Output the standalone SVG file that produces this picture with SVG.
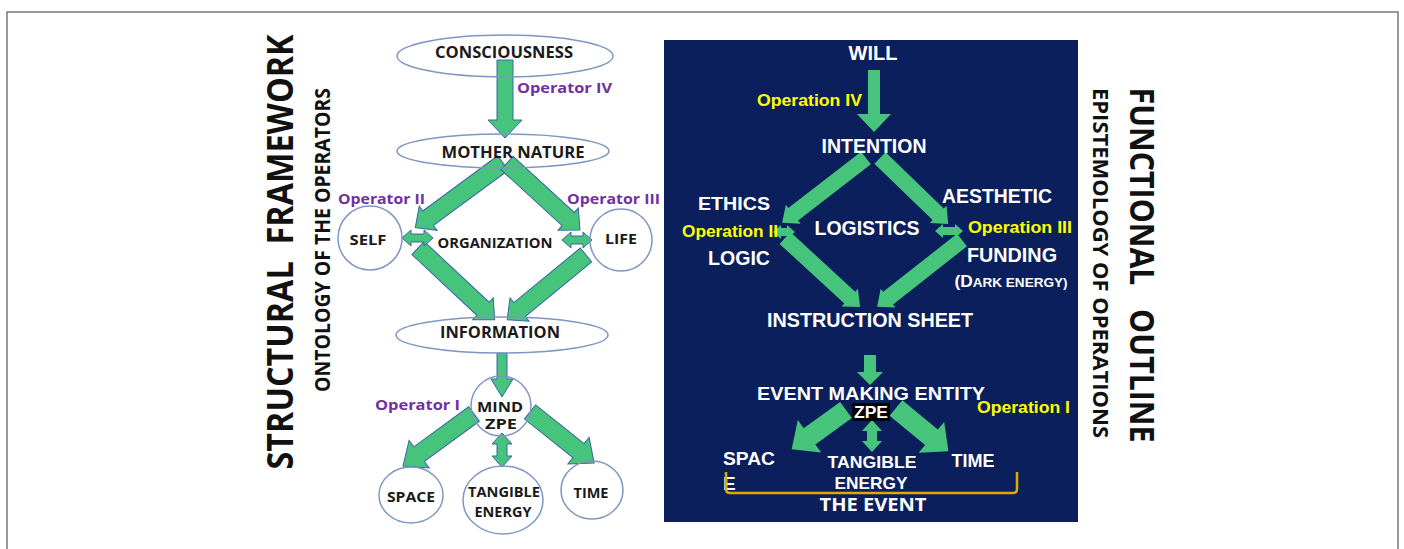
<svg xmlns="http://www.w3.org/2000/svg" width="1404" height="549" viewBox="0 0 1404 549">
<style>
.bg{fill:#ffffff}
.frame{fill:none;stroke:#555;stroke-width:1.2}
.panel{fill:#0b1f5c}
.ell{fill:none;stroke:#7f96c4;stroke-width:1.5}
.arr{fill:#46c47c;stroke:#3a64a8;stroke-width:1}
.arrR{fill:#46c47c;stroke:none}
.lt{font-family:"Open Sans","Noto Sans",sans-serif;font-weight:700;fill:#1a1a1a;text-anchor:middle}
.op{font-family:"Open Sans","Noto Sans",sans-serif;font-weight:700;fill:#7030a0}
.wt{font-family:"Liberation Sans",Arial,sans-serif;font-weight:700;fill:#ffffff;text-anchor:middle}
.yo{font-family:"Liberation Sans",Arial,sans-serif;font-weight:700;fill:#ffff00}
.title{font-family:"Open Sans","Noto Sans",sans-serif;font-weight:700;fill:#111;text-anchor:middle;white-space:pre}
</style>
<rect class="bg" x="0" y="0" width="1404" height="549"/>
<rect class="frame" x="7" y="12" width="1391" height="560"/>
<rect class="panel" x="664" y="40" width="414" height="482"/>

<g id="titles">
<text class="title" xml:space="preserve" transform="translate(293,252) rotate(-90)" font-size="35" textLength="435" lengthAdjust="spacingAndGlyphs">STRUCTURAL  FRAMEWORK</text>
<text class="title" transform="translate(330,240) rotate(-90)" font-size="22" textLength="304" lengthAdjust="spacingAndGlyphs">ONTOLOGY OF THE OPERATORS</text>
<text class="title" xml:space="preserve" transform="translate(1130,265) rotate(90)" font-size="34" textLength="355" lengthAdjust="spacingAndGlyphs">FUNCTIONAL   OUTLINE</text>
<text class="title" transform="translate(1093,263) rotate(90)" font-size="22" textLength="350" lengthAdjust="spacingAndGlyphs">EPISTEMOLOGY OF OPERATIONS</text>
</g>

<g id="connectors">
<polygon class="arr" transform="translate(505,60) rotate(90)" points="0,-8 60,-8 60,-17 78,0 60,17 60,8 0,8" stroke-width="1.5" stroke="#2f5597"/>
<polygon class="arr" transform="translate(503,163) rotate(143.6)" points="0,-9 93,-9 93,-15 109,0 93,15 93,9 0,9"/>
<polygon class="arr" transform="translate(507,163) rotate(42.5)" points="0,-9 83,-9 83,-15 99,0 83,15 83,9 0,9"/>
<polygon class="arr" transform="translate(418,248) rotate(43.1)" points="0,-9 89,-9 89,-15 105,0 89,15 89,9 0,9"/>
<polygon class="arr" transform="translate(586,255) rotate(140.6)" points="0,-9 86,-9 86,-15 102,0 86,15 86,9 0,9"/>
<polygon class="arr" transform="translate(402,238)" points="0,0 9,-8 9,-4 22,-4 22,-8 31,0 22,8 22,4 9,4 9,8"/>
<polygon class="arr" transform="translate(562,240)" points="0,0 9,-8 9,-4 21,-4 21,-8 30,0 21,8 21,4 9,4 9,8"/>
<polygon class="arr" transform="translate(502,353) rotate(90)" points="0,-5 26,-5 26,-11 44,0 26,11 26,5 0,5"/>
<polygon class="arr" transform="translate(474,414) rotate(143.8)" points="0,-9 68,-9 68,-17 88,0 68,17 68,9 0,9"/>
<polygon class="arr" transform="translate(530,412) rotate(38.5)" points="0,-9 62,-9 62,-17 82,0 62,17 62,9 0,9"/>
<polygon class="arr" transform="translate(502,433) rotate(90)" points="0,0 11,-10 11,-5 23,-5 23,-10 34,0 23,10 23,5 11,5 11,10"/>

<polygon class="arrR" transform="translate(874,70) rotate(90)" points="0,-6 44,-6 44,-17 62,0 44,17 44,6 0,6" stroke="#3f6fb5" stroke-width="1"/>
<polygon class="arrR" transform="translate(866,158) rotate(142.3)" points="0,-8 92,-8 92,-12 106,0 92,12 92,8 0,8"/>
<polygon class="arrR" transform="translate(880,158) rotate(44.1)" points="0,-8 81,-8 81,-12 95,0 81,12 81,8 0,8"/>
<polygon class="arrR" transform="translate(785,238) rotate(42.6)" points="0,-8 88,-8 88,-12 102,0 88,12 88,8 0,8"/>
<polygon class="arrR" transform="translate(962,240) rotate(141.8)" points="0,-8 94,-8 94,-12 108,0 94,12 94,8 0,8"/>
<polygon class="arrR" transform="translate(773,232)" points="0,0 8,-7 8,-4 14,-4 14,-7 22,0 14,7 14,4 8,4 8,7"/>
<polygon class="arrR" transform="translate(935,231)" points="0,0 8,-7 8,-4 20,-4 20,-7 28,0 20,7 20,4 8,4 8,7"/>
<polygon class="arrR" transform="translate(870,355) rotate(90)" points="0,-6 17,-6 17,-13 30,0 17,13 17,6 0,6"/>
<polygon class="arrR" transform="translate(846,410) rotate(144.2)" points="0,-10 45,-10 45,-20 67,0 45,20 45,10 0,10"/>
<polygon class="arrR" transform="translate(896,408) rotate(39.6)" points="0,-10 46,-10 46,-20 68,0 46,20 46,10 0,10"/>
<polygon class="arrR" transform="translate(872,420) rotate(90)" points="0,0 11,-10 11,-5 21,-5 21,-10 32,0 21,10 21,5 11,5 11,10"/>
</g>

<g id="consciousness">
<ellipse class="ell" cx="505" cy="56" rx="108" ry="21"/>
<text class="lt" x="504" y="58" font-size="15.5" textLength="138" lengthAdjust="spacingAndGlyphs">CONSCIOUSNESS</text>
</g>
<g id="op4"><text class="op" x="517" y="93" font-size="15" textLength="95" lengthAdjust="spacingAndGlyphs">Operator IV</text></g>
<g id="mother-nature">
<ellipse class="ell" cx="503" cy="151" rx="106" ry="17"/>
<text class="lt" x="513" y="158" font-size="15.5" textLength="143" lengthAdjust="spacingAndGlyphs">MOTHER NATURE</text>
</g>
<g id="op2"><text class="op" x="338" y="204" font-size="15" textLength="87" lengthAdjust="spacingAndGlyphs">Operator II</text></g>
<g id="op3"><text class="op" x="567" y="204" font-size="15" textLength="93" lengthAdjust="spacingAndGlyphs">Operator III</text></g>
<g id="self">
<circle class="ell" cx="370" cy="238" r="32"/>
<text class="lt" x="368" y="245" font-size="15" textLength="37" lengthAdjust="spacingAndGlyphs">SELF</text>
</g>
<g id="organization"><text class="lt" x="495" y="248" font-size="14" textLength="115" lengthAdjust="spacingAndGlyphs">ORGANIZATION</text></g>
<g id="life">
<circle class="ell" cx="621" cy="240" r="31"/>
<text class="lt" x="621" y="244" font-size="15" textLength="32" lengthAdjust="spacingAndGlyphs">LIFE</text>
</g>
<g id="information">
<ellipse class="ell" cx="502" cy="335" rx="106" ry="18"/>
<text class="lt" x="500" y="338" font-size="15.5" textLength="120" lengthAdjust="spacingAndGlyphs">INFORMATION</text>
</g>
<g id="op1"><text class="op" x="375" y="410" font-size="15" textLength="85" lengthAdjust="spacingAndGlyphs">Operator I</text></g>
<g id="mind">
<circle class="ell" cx="501" cy="406" r="30"/>
<text class="lt" x="500" y="412" font-size="14" textLength="46" lengthAdjust="spacingAndGlyphs">MIND</text>
<text class="lt" x="501" y="429" font-size="14" textLength="32" lengthAdjust="spacingAndGlyphs">ZPE</text>
</g>
<g id="space">
<ellipse class="ell" cx="411" cy="495" rx="32" ry="28"/>
<text class="lt" x="411" y="502" font-size="15" textLength="48" lengthAdjust="spacingAndGlyphs">SPACE</text>
</g>
<g id="tangible-energy">
<ellipse class="ell" cx="503" cy="500" rx="40" ry="34"/>
<text class="lt" x="504" y="497" font-size="14" textLength="72" lengthAdjust="spacingAndGlyphs">TANGIBLE</text>
<text class="lt" x="503" y="517" font-size="14" textLength="57" lengthAdjust="spacingAndGlyphs">ENERGY</text>
</g>
<g id="time">
<ellipse class="ell" cx="592" cy="490" rx="31" ry="29"/>
<text class="lt" x="591" y="498" font-size="15" textLength="35" lengthAdjust="spacingAndGlyphs">TIME</text>
</g>

<g id="will"><text class="wt" x="873" y="60" font-size="20">WILL</text></g>
<g id="opn4"><text class="yo" x="757" y="106" font-size="17" textLength="105" lengthAdjust="spacingAndGlyphs">Operation IV</text></g>
<g id="intention"><text class="wt" x="874" y="153" font-size="19.5" textLength="105" lengthAdjust="spacingAndGlyphs">INTENTION</text></g>
<g id="ethics"><text class="wt" x="734" y="210" font-size="19" textLength="72" lengthAdjust="spacingAndGlyphs">ETHICS</text></g>
<g id="opn2"><text class="yo" x="682" y="237" font-size="17" textLength="96" lengthAdjust="spacingAndGlyphs">Operation II</text></g>
<g id="logic"><text class="wt" x="739" y="265" font-size="19.5" textLength="62" lengthAdjust="spacingAndGlyphs">LOGIC</text></g>
<g id="logistics"><text class="wt" x="867" y="235" font-size="19.5" textLength="105" lengthAdjust="spacingAndGlyphs">LOGISTICS</text></g>
<g id="aesthetic"><text class="wt" x="997" y="203" font-size="19.5" textLength="110" lengthAdjust="spacingAndGlyphs">AESTHETIC</text></g>
<g id="opn3"><text class="yo" x="968" y="233" font-size="17" textLength="104" lengthAdjust="spacingAndGlyphs">Operation III</text></g>
<g id="funding">
<text class="wt" x="1012" y="262" font-size="19.5" textLength="90" lengthAdjust="spacingAndGlyphs">FUNDING</text>
<text class="wt" x="1011" y="287" font-size="12.5" textLength="113" lengthAdjust="spacingAndGlyphs"><tspan font-size="16">(D</tspan>ARK ENERGY)</text>
</g>
<g id="instruction-sheet"><text class="wt" x="870" y="327" font-size="19.5" textLength="206" lengthAdjust="spacingAndGlyphs">INSTRUCTION SHEET</text></g>
<g id="event-making-entity">
<text class="wt" x="871" y="400" font-size="19" textLength="228" lengthAdjust="spacingAndGlyphs">EVENT MAKING ENTITY</text>
<rect x="852" y="403" width="38" height="18" fill="#000"/>
<text class="wt" x="871" y="418" font-size="17" textLength="34" lengthAdjust="spacingAndGlyphs">ZPE</text>
</g>
<g id="opn1"><text class="yo" x="977" y="413" font-size="17" textLength="93" lengthAdjust="spacingAndGlyphs">Operation I</text></g>
<g id="space-r">
<text class="wt" x="723" y="465" font-size="19" textLength="52" lengthAdjust="spacingAndGlyphs" style="text-anchor:start">SPAC</text>
<text class="wt" x="723" y="490" font-size="19" style="text-anchor:start">E</text>
</g>
<g id="tangible-energy-r">
<text class="wt" x="872" y="468" font-size="17" textLength="89" lengthAdjust="spacingAndGlyphs">TANGIBLE</text>
<text class="wt" x="871" y="489" font-size="17" textLength="73" lengthAdjust="spacingAndGlyphs">ENERGY</text>
</g>
<g id="time-r"><text class="wt" x="973" y="467" font-size="19" textLength="43" lengthAdjust="spacingAndGlyphs">TIME</text></g>
<g id="the-event">
<path d="M726,472 V489 Q726,493 730,493 H1013 Q1017,493 1017,489 V472" fill="none" stroke="#e0a800" stroke-width="2.5"/>
<text x="873" y="511" font-family="'Open Sans','Noto Sans',sans-serif" font-weight="700" font-size="18" fill="#fff" text-anchor="middle" textLength="107" lengthAdjust="spacingAndGlyphs">THE EVENT</text>
</g>
</svg>
